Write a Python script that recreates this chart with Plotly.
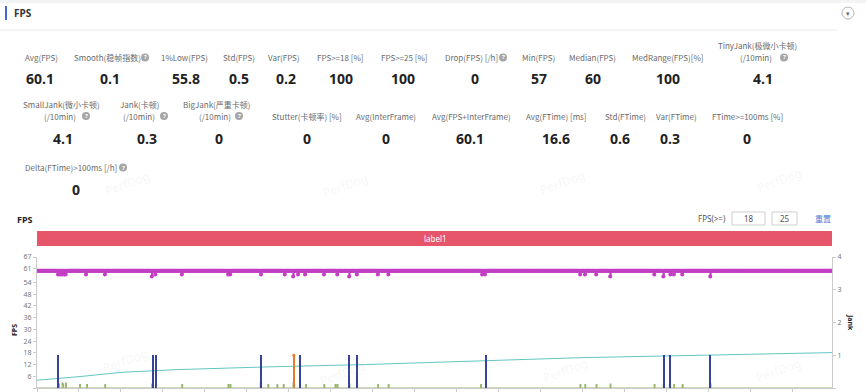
import plotly.graph_objects as go

# ---------------- data ----------------
session_seconds = 1136

# summary statistics (label, value)
row1_labels = ["Avg(FPS)", "Smooth(稳帧指数)", "1%Low(FPS)", "Std(FPS)", "Var(FPS)",
               "FPS>=18 [%]", "FPS>=25 [%]", "Drop(FPS) [/h]", "Min(FPS)", "Median(FPS)",
               "MedRange(FPS)[%]", "TinyJank(极微小卡顿)<br>(/10min)"]
row1_values = ["60.1", "0.1", "55.8", "0.5", "0.2", "100", "100", "0", "57", "60", "100", "4.1"]

row2_labels = ["SmallJank(微小卡顿)<br>(/10min)", "Jank(卡顿)<br>(/10min)", "BigJank(严重卡顿)<br>(/10min)",
               "Stutter(卡顿率) [%]", "Avg(InterFrame)", "Avg(FPS+InterFrame)", "Avg(FTime) [ms]",
               "Std(FTime)", "Var(FTime)", "FTime>=100ms [%]"]
row2_values = ["4.1", "0.3", "0", "0", "0", "60.1", "16.6", "0.6", "0.3", "0"]

row3_labels = ["Delta(FTime)>100ms [/h]"]
row3_values = ["0"]

# FPS series: median level with read-off dips (seconds, fps)
fps_median = 60
fps_dip_times = [30, 33, 36, 39, 41, 70, 97, 164, 169, 207, 273, 276, 320, 354, 366, 373, 383,
                 410, 429, 446, 457, 487, 502, 636, 640, 776, 783, 799, 819, 882, 895, 905,
                 910, 922, 962]
fps_dip_values = [58, 58, 58, 58, 58, 58, 58, 57, 58, 58, 58, 58, 58, 58, 57, 58, 58,
                  58, 58, 57, 58, 58, 58, 58, 58, 58, 58, 58, 57, 58, 57, 58,
                  58, 58, 57]

# frame-time delta spikes near the baseline (seconds, value on FPS axis)
delta_spike_times = [31, 36, 37, 41, 61, 71, 97, 164, 207, 273, 276, 319, 330, 343, 352, 366,
                     384, 410, 426, 429, 446, 487, 502, 634, 776, 783, 799, 819, 882, 895,
                     910, 922, 962]
delta_spike_values = [2.0, 2.5, 2.0, 2.5, 1.8, 1.8, 1.8, 2.0, 1.8, 1.8, 1.8, 2.5, 1.8, 1.8, 1.8, 2.5,
                      1.8, 1.8, 1.8, 1.8, 2.0, 1.8, 1.8, 1.8, 1.8, 1.8, 1.8, 2.0, 1.8, 2.0,
                      1.8, 1.8, 2.0]

# jank markers (right axis)
small_jank_times = [30, 166, 170, 320, 376, 446, 457, 642, 896, 905, 962]
small_jank_values = [1, 1, 1, 1, 1, 1, 1, 1, 1, 1, 1]
jank_times = [367]
jank_values = [1]

# cumulative trend line (FPS axis units)
trend_times = [0, 60, 120, 200, 330, 470, 776, 1136]
trend_values = [4.0, 5.8, 8.0, 9.4, 10.8, 12.0, 15.5, 18.1]

fps_tick_labels = [0, 6, 12, 18, 24, 30, 36, 42, 48, 54, 61, 67]
jank_tick_labels = [0, 1, 2, 3, 4]

# ---------------- layout helpers ----------------
W, H = 866, 392
ML, MR, MT, MB = 37, 34, 257, 4
PW = W - ML - MR
PH = H - MT - MB


def px(x):
    return (x - ML) / PW


def py(y):
    return (H - MB - y) / PH


annotations = []
shapes = []

LABEL_FONT = dict(family="Noto Sans CJK SC, Noto Sans, sans-serif", size=8, color="#6a6a6a")
VALUE_FONT = dict(family="Open Sans, Noto Sans, sans-serif", size=14, color="#222222")


def text(x, y, s, font, xanchor="center", angle=0):
    annotations.append(dict(x=px(x), y=py(y), xref="paper", yref="paper", text=s,
                            showarrow=False, font=font, xanchor=xanchor, yanchor="middle",
                            textangle=angle))


def rect(x0, y0, x1, y1, **kw):
    shapes.append(dict(type="rect", xref="paper", yref="paper", x0=px(x0), x1=px(x1),
                       y0=py(y1), y1=py(y0), **kw))


def circle(cx, cy, r, **kw):
    shapes.append(dict(type="circle", xref="paper", yref="paper", x0=px(cx - r), x1=px(cx + r),
                       y0=py(cy + r), y1=py(cy - r), **kw))


def help_icon(cx, cy):
    circle(cx, cy, 4, fillcolor="#a6a6a6", line=dict(width=0))
    text(cx, cy, "<b>?</b>", dict(family="Noto Sans", size=6, color="white"))


# header
rect(0, 0, 866, 3, fillcolor="#f2f3f5", line=dict(width=0))
rect(5, 6, 7, 20, fillcolor="#3d6ad6", line=dict(width=0))
text(12, 13, "<b>FPS</b>", dict(family="Noto Sans, sans-serif", size=10, color="#333"), xanchor="left")
shapes.append(dict(type="line", xref="paper", yref="paper", x0=px(0), x1=px(838), y0=py(30), y1=py(30),
                   line=dict(color="#e8e8e8", width=1)))
circle(848, 13, 6, fillcolor="white", line=dict(color="#b5b5b5", width=1))
text(848, 13.5, "▾", dict(family="DejaVu Sans", size=7, color="#666"))

# statistics
row1_label_x = [41, 107.5, 184, 239, 284, 340, 404, 471, 538, 592, 668, 757]
row1_value_x = [40, 110, 186, 239, 286, 341, 403, 475, 539, 593, 668, 763]
row2_label_x = [61, 139.5, 216, 307, 386, 471, 556, 625, 676, 747]
row2_value_x = [63, 147, 219, 307, 386, 470, 556, 620, 670, 747]
row3_label_x = [71]
row3_value_x = [76]


def put_row(labels, values, lx, vx, label_y, value_y):
    for lab, val, x1, x2 in zip(labels, values, lx, vx):
        parts = lab.split("<br>")
        if len(parts) == 1:
            text(x1, label_y, parts[0], LABEL_FONT)
        else:
            text(x1, label_y - 12, parts[0], LABEL_FONT)
            text(x1 - 1, label_y, parts[1], LABEL_FONT)
        text(x2, value_y, "<b>" + val + "</b>", VALUE_FONT)


put_row(row1_labels, row1_values, row1_label_x, row1_value_x, 57.5, 78.5)
put_row(row2_labels, row2_values, row2_label_x, row2_value_x, 116, 138.5)
put_row(row3_labels, row3_values, row3_label_x, row3_value_x, 167.5, 189)

for hx, hy in [(145, 57.5), (503, 57.5), (784, 57.5), (86, 116), (164, 116), (239, 116), (123, 167.5)]:
    help_icon(hx, hy)

# watermarks
for wx, wy in [(127, 183), (345, 185), (562, 182), (779, 180), (125, 360), (342, 373), (565, 370), (778, 370)]:
    text(wx, wy, "PerfDog", dict(family="Noto Sans", size=12, color="rgba(190,190,190,0.13)"), angle=-20)

# chart header
text(15, 219, "<b>FPS</b>", dict(family="Noto Sans, sans-serif", size=9, color="#222"), xanchor="left")
text(712, 218, "FPS(>=)", dict(family="Noto Sans, sans-serif", size=8, color="#555"))
rect(732, 212, 765, 225, fillcolor="white", line=dict(color="#cfcfcf", width=1))
rect(772, 212, 797, 225, fillcolor="white", line=dict(color="#cfcfcf", width=1))
text(749, 218.5, "18", dict(family="Noto Sans, sans-serif", size=8, color="#555"))
text(785, 218.5, "25", dict(family="Noto Sans, sans-serif", size=8, color="#555"))
text(823, 218, "重置", dict(family="Noto Sans CJK SC", size=8, color="#4a7bd0"))
rect(37, 231, 832, 246, fillcolor="#e6556a", line=dict(width=0))
text(435, 238.5, "label1", dict(family="Noto Sans, sans-serif", size=8, color="white"))

# axis titles
text(14, 330, "<b>FPS</b>", dict(family="Noto Sans, sans-serif", size=7, color="#222"), angle=-90)
text(851, 322, "<b>Jank</b>", dict(family="Noto Sans, sans-serif", size=7, color="#222"), angle=90)

# ---------------- traces ----------------
fps_times = list(range(session_seconds + 1))
fps_values = [fps_median] * len(fps_times)
for t, v in zip(fps_dip_times, fps_dip_values):
    fps_values[t] = v

delta_values = [0.0] * len(fps_times)
for t, v in zip(delta_spike_times, delta_spike_values):
    delta_values[t] = v

fig = go.Figure()
fig.add_trace(go.Scatter(x=trend_times, y=trend_values, mode="lines",
                         line=dict(color="#62c6c1", width=1), hoverinfo="skip"))
fig.add_trace(go.Scatter(x=fps_times, y=delta_values, mode="lines",
                         line=dict(color="#98b46c", width=1.2, shape="hv"), hoverinfo="skip"))
fig.add_trace(go.Bar(x=small_jank_times, y=small_jank_values, width=2.2, yaxis="y2",
                     marker=dict(color="#35449a", line=dict(width=0))))
fig.add_trace(go.Bar(x=jank_times, y=jank_values, width=2.2, yaxis="y2",
                     marker=dict(color="#ec7a2c", line=dict(width=0))))
fig.add_trace(go.Scatter(x=jank_times, y=jank_values, yaxis="y2", mode="markers",
                         marker=dict(color="#ec7a2c", size=3), hoverinfo="skip"))
fig.add_trace(go.Scatter(x=fps_times, y=fps_values, mode="lines+markers",
                         line=dict(color="#c23fc4", width=1.5, shape="hv"),
                         marker=dict(color="#c23fc4", size=4, line=dict(width=0)),
                         hoverinfo="skip"))

axis_common = dict(showgrid=False, zeroline=False, linecolor="#cccccc", linewidth=1,
                   ticks="outside", ticklen=3, tickcolor="#cccccc", automargin=False,
                   tickfont=dict(family="Noto Sans, sans-serif", size=7, color="#777"))

fig.update_layout(
    template="none",
    width=W, height=H,
    margin=dict(l=ML, r=MR, t=MT, b=MB, pad=0),
    paper_bgcolor="white", plot_bgcolor="white",
    showlegend=False,
    bargap=0,
    xaxis=dict(range=[0, session_seconds], dtick=60, tick0=0, showticklabels=False,
               showline=True, **axis_common),
    yaxis=dict(range=[0, 67], tickvals=fps_tick_labels, ticktext=[str(v) for v in fps_tick_labels],
               showline=True, **axis_common),
    yaxis2=dict(range=[0, 4], tickvals=jank_tick_labels, ticktext=[str(v) for v in jank_tick_labels],
                overlaying="y", side="right", showline=True, **axis_common),
    annotations=annotations,
    shapes=shapes,
)

fig.write_html("out.html")
